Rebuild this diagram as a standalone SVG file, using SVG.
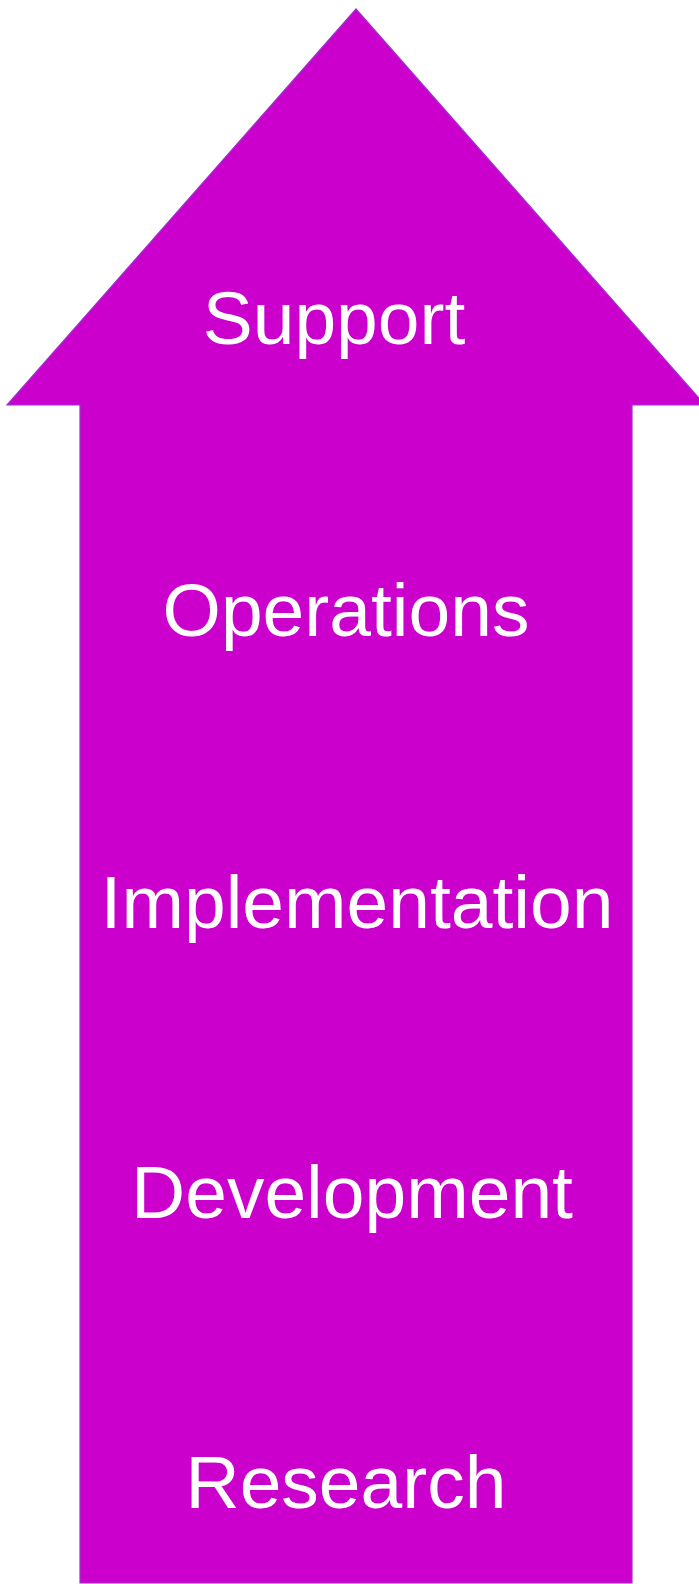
<svg xmlns="http://www.w3.org/2000/svg" width="699" height="1584" viewBox="0 0 699 1584">
<style>
.arrow{fill:#CC00CC;stroke:#9933CC;stroke-width:1.2}
.lbl{font-family:"Liberation Sans",Arial,sans-serif;font-size:75px;fill:#FFFFFF;text-anchor:middle}
</style>
<rect width="699" height="1584" fill="#FFFFFF"/>
<g id="arrow">
<path class="arrow" d="M356,9 L705,405 L632,405 L632,1583 L80,1583 L80,405 L7,405 Z"/>
</g>
<g id="support"><text class="lbl" x="334" y="344">Support</text></g>
<g id="operations"><text class="lbl" x="346" y="636">Operations</text></g>
<g id="implementation"><text class="lbl" x="357" y="928">Implementation</text></g>
<g id="development"><text class="lbl" x="352" y="1218">Development</text></g>
<g id="research"><text class="lbl" x="346" y="1508">Research</text></g>
<g id="connectors"></g>
</svg>
